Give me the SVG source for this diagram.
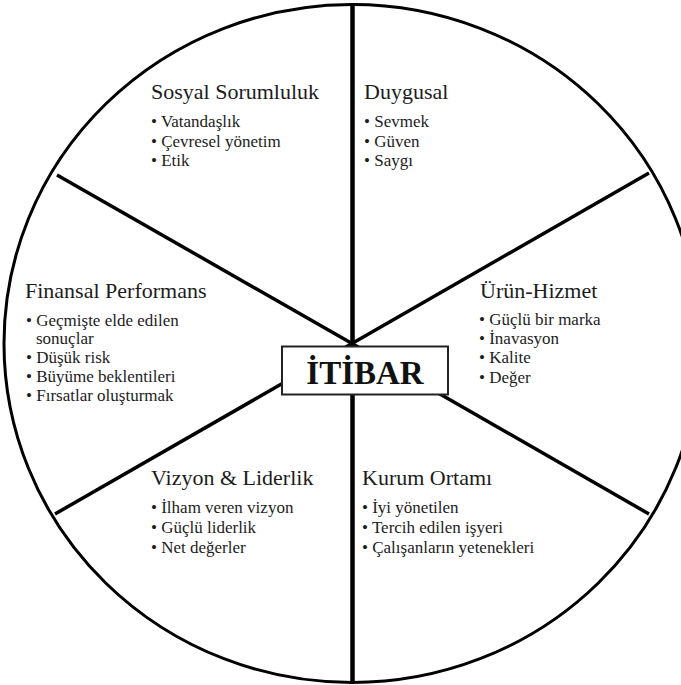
<svg xmlns="http://www.w3.org/2000/svg" width="681" height="685" viewBox="0 0 681 685">
  <style>
    .rim { fill: none; stroke: #000; stroke-width: 3; }
    .spoke { stroke: #000; stroke-width: 3.5; stroke-linecap: butt; }
    .axis { stroke: #000; stroke-width: 4.5; }
    text { font-family: "Liberation Serif", Tinos, "DejaVu Serif", "Times New Roman", serif; }
    .head { font-size: 22px; fill: #1c1c1c; }
    .item { font-size: 17px; fill: #1c1c1c; }
    .core { fill: #fff; stroke: #222; stroke-width: 2; }
    .coreText { font-size: 33px; font-weight: bold; fill: #111; }
  </style>

  <rect width="681" height="685" fill="#fff"/>

  <!-- outer wheel -->
  <ellipse class="rim" cx="352" cy="343.5" rx="348" ry="339"/>

  <!-- spokes radiating from the hub -->
  <g id="connectors">
    <line class="axis" x1="352.5" y1="4" x2="352.5" y2="683"/>
    <line class="spoke" x1="352" y1="343.5" x2="57" y2="175"/>
    <line class="spoke" x1="352" y1="343.5" x2="649" y2="173"/>
    <line class="spoke" x1="352" y1="343.5" x2="55" y2="514"/>
    <line class="spoke" x1="352" y1="343.5" x2="649" y2="514"/>
  </g>

  <g id="sosyal-sorumluluk">
    <text class="head" x="151" y="99">Sosyal Sorumluluk</text>
    <text class="item" x="151" y="127">• Vatandaşlık</text>
    <text class="item" x="151" y="147">• Çevresel yönetim</text>
    <text class="item" x="151" y="166">• Etik</text>
  </g>

  <g id="duygusal">
    <text class="head" x="364" y="99">Duygusal</text>
    <text class="item" x="364" y="127">• Sevmek</text>
    <text class="item" x="364" y="147">• Güven</text>
    <text class="item" x="364" y="166">• Saygı</text>
  </g>

  <g id="finansal-performans">
    <text class="head" x="25" y="298">Finansal Performans</text>
    <text class="item" x="26" y="326">• Geçmişte elde edilen</text>
    <text class="item" x="36" y="344">sonuçlar</text>
    <text class="item" x="26" y="363">• Düşük risk</text>
    <text class="item" x="26" y="382">• Büyüme beklentileri</text>
    <text class="item" x="26" y="401">• Fırsatlar oluşturmak</text>
  </g>

  <g id="urun-hizmet">
    <text class="head" x="480" y="298">Ürün-Hizmet</text>
    <text class="item" x="479" y="325">• Güçlü bir marka</text>
    <text class="item" x="479" y="344">• İnavasyon</text>
    <text class="item" x="479" y="363">• Kalite</text>
    <text class="item" x="479" y="383">• Değer</text>
  </g>

  <g id="vizyon-liderlik">
    <text class="head" x="151" y="485">Vizyon &amp; Liderlik</text>
    <text class="item" x="151" y="513">• İlham veren vizyon</text>
    <text class="item" x="151" y="533">• Güçlü liderlik</text>
    <text class="item" x="151" y="553">• Net değerler</text>
  </g>

  <g id="kurum-ortami">
    <text class="head" x="362" y="485">Kurum Ortamı</text>
    <text class="item" x="362" y="513">• İyi yönetilen</text>
    <text class="item" x="362" y="533">• Tercih edilen işyeri</text>
    <text class="item" x="362" y="553">• Çalışanların yetenekleri</text>
  </g>

  <!-- hub label -->
  <g id="itibar">
    <rect class="core" x="282" y="346.5" width="166" height="48"/>
    <text class="coreText" x="365" y="384" text-anchor="middle">İTİBAR</text>
  </g>
</svg>
